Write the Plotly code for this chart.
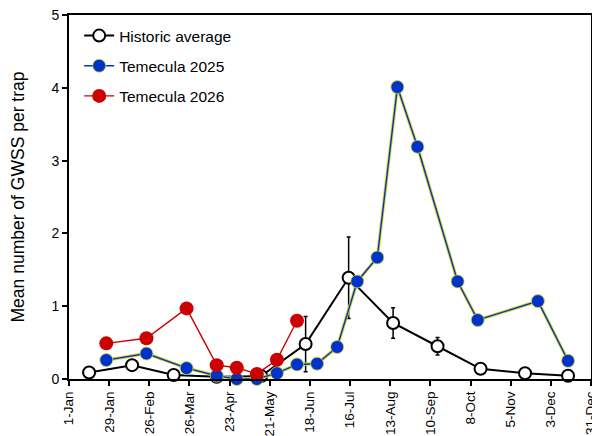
import plotly.graph_objects as go

# x positions are day of year (0 = 1-Jan)
tick_days = [0, 28, 56, 84, 112, 140, 168, 196, 224, 252, 280, 308, 336, 364]
tick_labels = ['1-Jan', '29-Jan', '26-Feb', '26-Mar', '23-Apr', '21-May', '18-Jun',
               '16-Jul', '13-Aug', '10-Sep', '8-Oct', '5-Nov', '3-Dec', '31-Dec']

hist_days = [14, 44, 73, 103, 134, 165, 195, 226, 257, 287, 318, 348]
hist_mean = [0.09, 0.19, 0.055, 0.03, 0.04, 0.48, 1.39, 0.77, 0.45, 0.14, 0.08, 0.045]
hist_err = [0.03, 0.06, 0.02, 0.02, 0.02, 0.38, 0.56, 0.21, 0.12, 0.03, 0.02, 0.01]

t25_days = [26, 54, 82, 103, 117, 131, 145, 159, 173, 187, 201, 215, 229, 243, 271, 285, 327, 348]
t25_vals = [0.26, 0.35, 0.15, 0.045, 0.0, 0.0, 0.08, 0.2, 0.21, 0.44, 1.34, 1.67,
            4.01, 3.19, 1.34, 0.81, 1.07, 0.25]

t26_days = [26, 54, 82, 103, 117, 131, 145, 159]
t26_vals = [0.49, 0.56, 0.97, 0.19, 0.155, 0.07, 0.265, 0.80]

BLUE = '#0033cc'
YELLOW = '#d8d820'
RED = '#cc0000'

fig = go.Figure()

# historic average with error bars
fig.add_trace(go.Scatter(
    x=hist_days, y=hist_mean,
    mode='lines+markers',
    name='Historic average',
    line=dict(color='black', width=2),
    marker=dict(size=12, color='white', line=dict(color='black', width=2)),
    error_y=dict(type='data', array=hist_err, color='black', thickness=1.5, width=2),
    cliponaxis=False,
    legendgroup='a'
))

# yellow halo under the blue line
fig.add_trace(go.Scatter(
    x=t25_days, y=t25_vals,
    mode='lines',
    line=dict(color=YELLOW, width=3.2),
    showlegend=False,
    hoverinfo='skip',
    cliponaxis=False
))

fig.add_trace(go.Scatter(
    x=t25_days, y=t25_vals,
    mode='lines+markers',
    name='Temecula 2025',
    line=dict(color=BLUE, width=1.4),
    marker=dict(size=13, color=BLUE, line=dict(color=YELLOW, width=0.8)),
    cliponaxis=False,
    legendgroup='b'
))

fig.add_trace(go.Scatter(
    x=t26_days, y=t26_vals,
    mode='lines+markers',
    name='Temecula 2026',
    line=dict(color=RED, width=1.4),
    marker=dict(size=14, color=RED),
    cliponaxis=False,
    legendgroup='c'
))

# page body adds an 8px offset, so the figure is 8px smaller than the window
fig.update_layout(
    width=592, height=428,
    margin=dict(l=61, r=9, t=7, b=57),
    paper_bgcolor='white',
    plot_bgcolor='white',
    font=dict(family='Liberation Sans, Arial, sans-serif', color='black'),
    showlegend=True,
    legend=dict(
        x=0.0195, y=0.989, xanchor='left', yanchor='top',
        font=dict(size=15.5),
        bgcolor='rgba(0,0,0,0)',
        traceorder='grouped',
        tracegroupgap=7,
        itemwidth=30
    ),
    xaxis=dict(
        range=[0, 364],
        tickmode='array', tickvals=tick_days, ticktext=tick_labels,
        tickangle=-90,
        tickfont=dict(size=13.5),
        ticks='outside', ticklen=5, tickwidth=1.5, tickcolor='black',
        showline=True, linecolor='black', linewidth=2, mirror=True,
        showgrid=False, zeroline=False, automargin=False,
        ticklabeloverflow='allow'
    ),
    yaxis=dict(
        range=[0, 5],
        tickmode='array', tickvals=[0, 1, 2, 3, 4, 5],
        tickfont=dict(size=14),
        ticks='outside', ticklen=5, tickwidth=1.5, tickcolor='black',
        showline=True, linecolor='black', linewidth=2, mirror=True,
        showgrid=False, zeroline=False, automargin=False,
        ticklabeloverflow='allow',
        title=dict(text='Mean number of GWSS per trap', font=dict(size=17.5), standoff=25)
    )
)

fig.write_html('out.html')
